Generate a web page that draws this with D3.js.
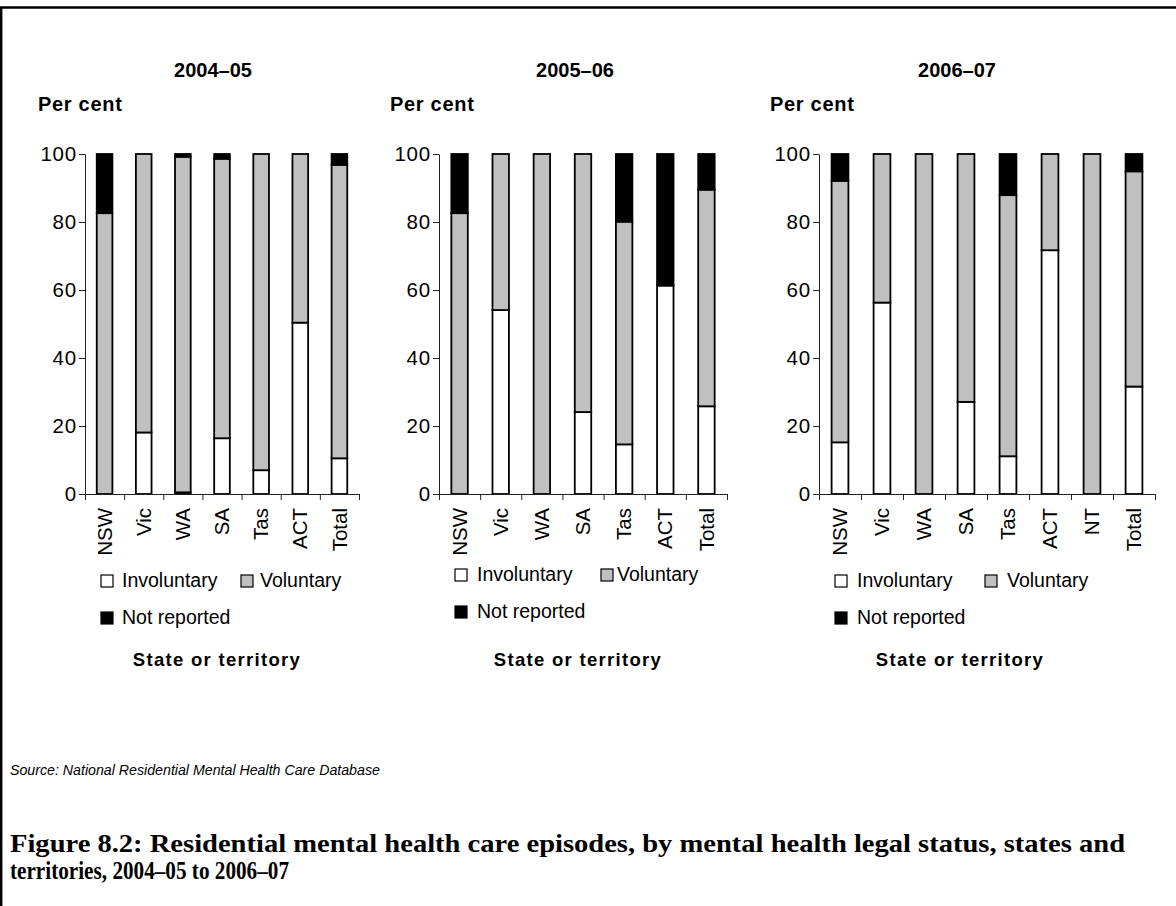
<!DOCTYPE html>
<html>
<head>
<meta charset="utf-8">
<script src="https://cdn.jsdelivr.net/npm/d3@7"></script>
<style>
  html, body { margin: 0; padding: 0; background: #fff; overflow: hidden; }
  svg { display: block; }
  text { font-family: "Liberation Sans", Arial, sans-serif; fill: #000; }
</style>
</head>
<body>
<svg id="chart" width="1176" height="906"></svg>
<script>
// ---- Data: share of residential episodes (%) by mental health legal status ----
const states0405 = ["NSW", "Vic", "WA", "SA", "Tas", "ACT", "Total"];
const involuntary0405 = [0, 18.1, 0.5, 16.4, 7.0, 50.4, 10.5];
const voluntary0405   = [82.6, 81.9, 98.7, 82.2, 93.0, 49.6, 86.3];
const notReported0405 = [17.4, 0, 0.8, 1.4, 0, 0, 3.2];

const states0506 = ["NSW", "Vic", "WA", "SA", "Tas", "ACT", "Total"];
const involuntary0506 = [0, 54.1, 0, 24.1, 14.6, 61.3, 25.8];
const voluntary0506   = [82.6, 45.9, 100, 75.9, 65.5, 0, 63.7];
const notReported0506 = [17.4, 0, 0, 0, 19.9, 38.7, 10.5];

const states0607 = ["NSW", "Vic", "WA", "SA", "Tas", "ACT", "NT", "Total"];
const involuntary0607 = [15.2, 56.3, 0, 27.1, 11.1, 71.7, 0, 31.6];
const voluntary0607   = [76.9, 43.7, 100, 72.9, 76.8, 28.3, 100, 63.3];
const notReported0607 = [7.9, 0, 0, 0, 12.1, 0, 0, 5.1];

const yTicks = [0, 20, 40, 60, 80, 100];
const seriesKeys = ["Involuntary", "Voluntary", "Not reported"];
const seriesColors = ["#ffffff", "#c0c0c0", "#000000"];

const panels = [
  { title: "2004–05", states: states0405, inv: involuntary0405, vol: voluntary0405, nr: notReported0405 },
  { title: "2005–06", states: states0506, inv: involuntary0506, vol: voluntary0506, nr: notReported0506 },
  { title: "2006–07", states: states0607, inv: involuntary0607, vol: voluntary0607, nr: notReported0607 }
];

// ---- Layout for each small multiple ----
const layouts = [
  { x0: 85,  x1: 359,  titleX: 213, unitX: 38,  xLabelX: 217,
    legend: [ {sx: 101, tx: 122, y: 587}, {sx: 241, tx: 260, y: 587}, {sx: 101, tx: 122, y: 624} ] },
  { x0: 439, x1: 727,  titleX: 575, unitX: 390, xLabelX: 578,
    legend: [ {sx: 455, tx: 477, y: 581}, {sx: 601, tx: 617, y: 581}, {sx: 455, tx: 477, y: 618} ] },
  { x0: 819, x1: 1155, titleX: 957, unitX: 770, xLabelX: 960,
    legend: [ {sx: 835, tx: 857, y: 587}, {sx: 985, tx: 1007, y: 587}, {sx: 835, tx: 857, y: 624} ] }
];
const yTop = 154, yBottom = 494;

const svg = d3.select("#chart");

// Frame around the figure (top and left rules)
svg.append("path")
  .attr("d", "M1.2,906 V7.5 H1176")
  .attr("fill", "none")
  .attr("stroke", "#000")
  .attr("stroke-width", 2.4);

panels.forEach((p, i) => {
  const L = layouts[i];
  const g = svg.append("g");

  const rows = p.states.map((s, j) => ({
    state: s,
    "Involuntary": p.inv[j],
    "Voluntary": p.vol[j],
    "Not reported": p.nr[j]
  }));
  const stacked = d3.stack().keys(seriesKeys)(rows);

  const x = d3.scaleBand()
    .domain(p.states)
    .range([L.x0, L.x1])
    .paddingInner(0.6)
    .paddingOuter(0.3);
  const y = d3.scaleLinear().domain([0, 100]).range([yBottom, yTop]);

  // Bars
  stacked.forEach((layer, k) => {
    g.append("g").selectAll("rect")
      .data(layer)
      .join("rect")
      .attr("x", d => x(d.data.state))
      .attr("width", x.bandwidth())
      .attr("y", d => y(d[1]))
      .attr("height", d => y(d[0]) - y(d[1]))
      .attr("fill", seriesColors[k])
      .attr("stroke", "#000")
      .attr("stroke-width", 1.8);
  });

  // Y axis
  const yAxis = g.append("g")
    .attr("transform", `translate(${L.x0},0)`)
    .call(d3.axisLeft(y).tickValues(yTicks).tickSize(6).tickSizeOuter(0).tickPadding(2));
  yAxis.selectAll("text").style("font-size", "20.5px").style("letter-spacing", "0.8px").attr("fill", "#000");
  yAxis.selectAll("line, path").attr("stroke", "#222");

  // X axis with ticks between categories
  const xb = d3.scaleLinear().domain([0, p.states.length]).range([L.x0, L.x1]);
  const xAxis = g.append("g")
    .attr("transform", `translate(0,${yBottom})`)
    .call(d3.axisBottom(xb).tickValues(d3.range(p.states.length + 1))
      .tickFormat("").tickSize(6).tickSizeOuter(0));
  xAxis.selectAll("line, path").attr("stroke", "#222");

  // Category labels, rotated
  g.append("g").selectAll("text")
    .data(p.states)
    .join("text")
    .attr("transform", d => `translate(${x(d) + x.bandwidth() / 2},508) rotate(-90)`)
    .attr("text-anchor", "end")
    .attr("dy", "0.35em")
    .style("font-size", "20.5px")
    .text(d => d);

  // Panel title and unit label
  g.append("text")
    .attr("x", L.titleX).attr("y", 77)
    .attr("text-anchor", "middle")
    .style("font-size", "20px").style("font-weight", "bold")
    .text(p.title);
  g.append("text")
    .attr("x", L.unitX).attr("y", 111)
    .style("font-size", "20px").style("font-weight", "bold")
    .style("letter-spacing", "0.7px")
    .text("Per cent");

  // Legend
  seriesKeys.forEach((key, k) => {
    const it = L.legend[k];
    g.append("rect")
      .attr("x", it.sx).attr("y", it.y - 12)
      .attr("width", 12).attr("height", 12)
      .attr("fill", seriesColors[k])
      .attr("stroke", "#000").attr("stroke-width", 1.2);
    g.append("text")
      .attr("x", it.tx).attr("y", it.y)
      .style("font-size", "19.5px")
      .text(key);
  });

  // X axis title
  g.append("text")
    .attr("x", L.xLabelX).attr("y", 666)
    .attr("text-anchor", "middle")
    .style("font-size", "18.5px").style("font-weight", "bold")
    .style("letter-spacing", "1.3px")
    .text("State or territory");
});

// Source note
svg.append("text")
  .attr("x", 10).attr("y", 775)
  .style("font-size", "14.2px").style("font-style", "italic")
  .text("Source: National Residential Mental Health Care Database");

// Figure caption
const caption = svg.append("text")
  .style("font-family", "'Liberation Serif', 'DejaVu Serif', serif")
  .style("font-size", "24.5px").style("font-weight", "bold");
caption.append("tspan").attr("x", 10).attr("y", 852)
  .attr("textLength", 1115).attr("lengthAdjust", "spacingAndGlyphs")
  .text("Figure 8.2: Residential mental health care episodes, by mental health legal status, states and");
caption.append("tspan").attr("x", 10).attr("y", 879)
  .attr("textLength", 279).attr("lengthAdjust", "spacingAndGlyphs")
  .text("territories, 2004–05 to 2006–07");
</script>
</body>
</html>
